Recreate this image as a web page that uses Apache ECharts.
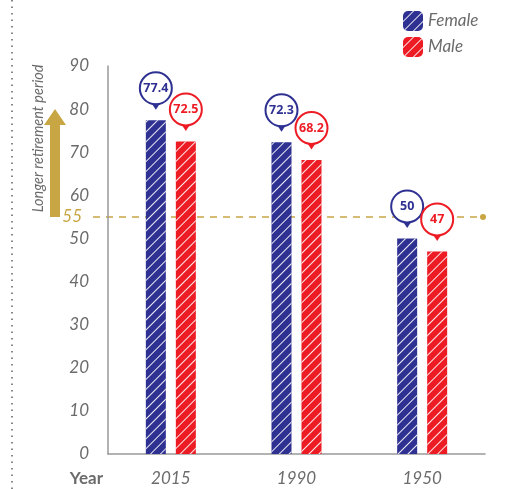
<!DOCTYPE html>
<html>
<head>
<meta charset="utf-8">
<script src="https://cdn.jsdelivr.net/npm/echarts@6/dist/echarts.min.js"></script>
<style>
  html, body { margin: 0; padding: 0; background: #fff; }
  #chart { width: 525px; height: 489px; }
</style>
</head>
<body>
<div id="chart"></div>
<script>
// data
var years = ["2015", "1990", "1950"];
var female = [77.4, 72.3, 50];
var male = [72.5, 68.2, 47];
var retireAge = 55;
var arrowTop = 80;

var FONT = "Lato";
var grey = "#6b6b6b";
var gold = "#c9a644";
var navy = "#2e3192";
var red = "#ed1c24";

var stripes = {
  symbol: "rect",
  symbolSize: 1,
  dashArrayX: [[1, 0]],
  dashArrayY: [1, 6],
  rotation: -Math.PI / 4,
  color: "rgba(255,255,255,0.9)"
};

// a white circle with the value and a small pointer under it
function balloons(vals, color) {
  var items = [];
  vals.forEach(function (v, i) {
    items.push({
      coord: [i, v], value: v,
      symbol: "circle", symbolSize: 32, symbolOffset: [0, -32],
      itemStyle: { color: "#fff", borderColor: color, borderWidth: 2 }
    });
    items.push({
      coord: [i, v], value: v,
      symbol: "triangle", symbolSize: [8, 6], symbolRotate: 180, symbolOffset: [0, -13.5],
      itemStyle: { color: color, borderWidth: 0 },
      label: { show: false }
    });
  });
  return {
    label: {
      show: true,
      color: color,
      fontFamily: "Noto Sans",
      fontWeight: "bold",
      fontSize: 12.5,
      formatter: function (p) { return p.value; }
    },
    data: items
  };
}

var chart = echarts.init(document.getElementById("chart"));

chart.setOption({
  animation: false,
  grid: { left: 108, right: 40, top: 66, bottom: 35 },
  legend: {
    orient: "vertical",
    left: 398,
    top: 6,
    itemWidth: 20,
    itemHeight: 20,
    itemGap: 6,
    textStyle: { fontFamily: FONT, fontStyle: "italic", fontSize: 17, color: grey },
    data: ["Female", "Male"]
  },
  xAxis: {
    type: "category",
    data: years,
    axisTick: { show: false },
    axisLine: { lineStyle: { color: "#999", width: 1.5 } },
    axisLabel: {
      margin: 16,
      fontFamily: FONT, fontStyle: "italic", fontSize: 17, color: grey
    }
  },
  yAxis: {
    type: "value",
    min: 0,
    max: 90,
    interval: 10,
    splitLine: { show: false },
    axisTick: { show: false },
    axisLine: { show: true, lineStyle: { color: "#999", width: 1.5 } },
    axisLabel: {
      margin: 19,
      fontFamily: FONT, fontStyle: "italic", fontSize: 17, color: grey
    }
  },
  series: [
    {
      name: "Female",
      type: "bar",
      data: female,
      barWidth: 20,
      barGap: "50%",
      itemStyle: { color: navy, decal: stripes },
      markPoint: balloons(female, navy)
    },
    {
      name: "Male",
      type: "bar",
      data: male,
      barWidth: 20,
      barGap: "50%",
      itemStyle: { color: red, decal: stripes },
      markPoint: balloons(male, red)
    }
  ]
});

// reference line at 55, the arrow and the side texts
var y55 = chart.convertToPixel({ yAxisIndex: 0 }, retireAge);
var yTop = chart.convertToPixel({ yAxisIndex: 0 }, arrowTop);
var ax = 55;

chart.setOption({
  graphic: [
    {
      type: "line",
      shape: { x1: 12, y1: 0, x2: 12, y2: 489 },
      style: { stroke: "#888", lineWidth: 2, lineDash: [1.5, 5] }
    },
    {
      type: "line",
      shape: { x1: 93, y1: y55, x2: 483, y2: y55 },
      style: { stroke: gold, lineWidth: 1.5, lineDash: [7, 6] }
    },
    {
      type: "circle",
      shape: { cx: 483, cy: y55, r: 3 },
      style: { fill: gold }
    },
    {
      type: "text",
      x: 82, y: y55,
      style: {
        text: String(retireAge), align: "right", verticalAlign: "middle",
        fontFamily: FONT, fontStyle: "italic", fontSize: 17, fill: gold
      }
    },
    {
      type: "polygon",
      shape: {
        points: [
          [ax - 5, y55], [ax + 5, y55], [ax + 5, yTop + 16],
          [ax + 11, yTop + 16], [ax, yTop], [ax - 11, yTop + 16], [ax - 5, yTop + 16]
        ]
      },
      style: { fill: gold }
    },
    {
      type: "text",
      x: 38, y: (y55 + 60) / 2,
      rotation: Math.PI / 2,
      style: {
        text: "Longer retirement period", align: "center", verticalAlign: "middle",
        fontFamily: FONT, fontStyle: "italic", fontSize: 14.5, fill: grey
      }
    },
    {
      type: "text",
      x: 103, y: 479,
      style: {
        text: "Year", align: "right", verticalAlign: "middle",
        fontFamily: FONT, fontWeight: "bold", fontSize: 17, fill: grey
      }
    }
  ]
});
</script>
</body>
</html>
